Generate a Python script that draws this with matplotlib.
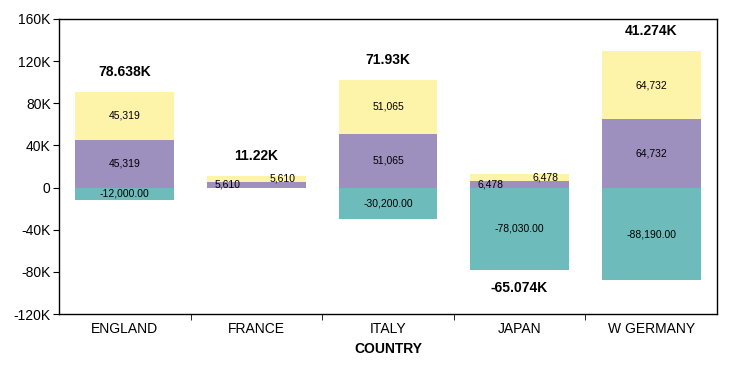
import matplotlib
matplotlib.use("Agg")
import matplotlib.pyplot as plt
import numpy as np

plt.rcParams['font.family'] = ['Liberation Sans', 'DejaVu Sans']

countries = ["ENGLAND", "FRANCE", "ITALY", "JAPAN", "W GERMANY"]
teal_vals = [-12000.00, 0.0, -30200.00, -78030.00, -88190.00]
purple_vals = [45319, 5610, 51065, 6478, 64732]
yellow_vals = [45319, 5610, 51065, 6478, 64732]
yticks = [-120000, -80000, -40000, 0, 40000, 80000, 120000, 160000]
ytick_labels = ["-120K", "-80K", "-40K", "0", "40K", "80K", "120K", "160K"]

c_teal = "#6dbcbb"
c_purple = "#9d90bf"
c_yellow = "#fdf3a9"

fig = plt.figure(figsize=(7.44, 3.69), dpi=100)
ax = fig.add_axes([59/744, 1-314/369, (717-59)/744, (314-19)/369])

x = np.arange(len(countries))
w = 0.75
teal = np.array(teal_vals)
purple = np.array(purple_vals)
yellow = np.array(yellow_vals)

ax.bar(x, teal, width=w, color=c_teal, edgecolor='none')
ax.bar(x, purple, width=w, color=c_purple, edgecolor='none')
ax.bar(x, yellow, bottom=purple, width=w, color=c_yellow, edgecolor='none')

lab_fs = 7.5
for i in range(len(countries)):
    small = purple[i] < 15000
    dx_p = -0.22 if small else 0
    dx_y = 0.2 if small else 0
    ax.text(x[i] + dx_p, purple[i] / 2, f"{purple[i]:,}", ha='center', va='center', fontsize=lab_fs)
    ax.text(x[i] + dx_y, purple[i] + yellow[i] / 2, f"{yellow[i]:,}", ha='center', va='center', fontsize=lab_fs)
    if teal[i] != 0:
        ax.text(x[i], teal[i] / 2, f"{teal[i]:,.2f}", ha='center', va='center', fontsize=lab_fs)
    total = teal[i] + purple[i] + yellow[i]
    tlabel = f"{total/1000:g}K"
    if total >= 0:
        ax.annotate(tlabel, (x[i], purple[i] + yellow[i]), xytext=(0, 20), textcoords='offset pixels',
                    ha='center', va='center', fontsize=10, fontweight='bold')
    else:
        ax.annotate(tlabel, (x[i], teal[i]), xytext=(0, -18), textcoords='offset pixels',
                    ha='center', va='center', fontsize=10, fontweight='bold')

ax.set_xlim(-0.5, len(countries) - 0.5)
ax.set_ylim(-120000, 160000)
ax.set_yticks(yticks)
ax.set_yticklabels(ytick_labels, fontsize=10)
ax.set_xticks(x)
ax.set_xticklabels(countries, fontsize=10)
ax.tick_params(axis='x', length=0, pad=6)
ax.set_xticks(np.arange(0.5, len(countries) - 0.5, 1), minor=True)
ax.tick_params(axis='x', which='minor', length=4, direction='out')
ax.tick_params(axis='y', length=4, direction='out', pad=2)
ax.set_xlabel("COUNTRY", fontsize=10, fontweight='bold', labelpad=4)
for s in ax.spines.values():
    s.set_linewidth(1.0)
    s.set_color('black')

fig.savefig("out.png", dpi=100)
